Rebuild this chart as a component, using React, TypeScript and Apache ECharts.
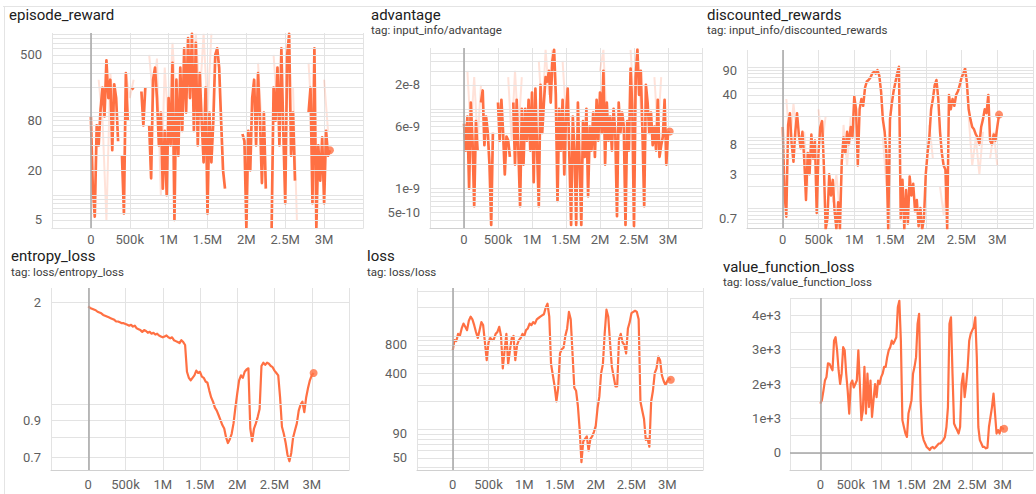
import { useEffect, useRef } from 'react';
import * as echarts from 'echarts';

// logging interval of the runs (steps between two logged points)
const STEP = 25000;
// the faint (raw, unsmoothed) traces are read at a coarser interval
const RAW_STEP = 50000;

// ---- smoothed series values, one per logged step (null = no data logged) ----
const rewardValues = [
  90, 12, 5.5, 70, 40, 110, 200, 90, 430, 150,
  250, 35, 220, 150, 45, null, 30, 6, 300, 80,
  null, 200, 190, null, null, null, 180, 70, 200, null,
  70, 16, 250, 350, 150, 40, 100, 12, 60, 10,
  150, 40, 400, 5, 250, 30, 350, 60, 600, 100,
  800, 150, 900, 60, 700, 40, 300, 80, 25, 200,
  6, 100, 25, 80, 500, 600, 350, 80, 20, 12,
  null, null, null, null, null, null, null, null, 55, 45,
  4, 60, 20, 150, 250, 40, 300, 80, 14, 100,
  12, null, null, 4, 200, 80, 350, 40, 600, 60,
  8, 500, 900, 30, 100, 15, null, null, null, null,
  null, null, 100, 200, 8, 600, 4, 40, 15, 50,
  8, 60, 30, 35,
];

const advantageValues = [
  6.5e-9, 3e-9, 8e-9, 1e-9, 1.2e-8, 4e-9, 6e-10, 7e-9, 3e-9, null,
  1.2e-8, 1.7e-8, 3.5e-9, 8e-9, 5e-9, 2e-9, 3.5e-10, 5e-9, null, null,
  1.2e-8, 4e-9, 1.3e-8, 5e-9, 1.5e-9, 4.5e-9, 4e-9, 2.5e-9, null, 1.2e-8,
  2e-9, 1.3e-8, 3e-9, 6e-10, 1e-8, 2e-9, 1e-8, 4e-9, 1.3e-8, 3e-9,
  1.6e-8, 1.2e-9, 1.8e-8, 3e-9, 6e-10, 2e-8, 5e-9, 1.2e-8, 2.5e-8, 2.2e-8,
  3e-8, 1.2e-8, 4e-8, 5.5e-8, 1.5e-8, 7e-10, 1e-8, 3e-9, 1.3e-8, 1.5e-9,
  8e-9, 1.8e-8, 2.5e-9, 3.5e-10, 8e-9, 3e-9, 3.5e-10, 1.2e-8, 2e-9, 3.5e-10,
  7e-9, 2.5e-9, 1e-8, 8e-10, 6e-9, 3e-9, 9e-9, 2.5e-9, 1.3e-8, 4e-9,
  1.6e-8, 5e-9, 3e-8, 2e-9, 1.2e-8, 4e-9, 8e-9, 3e-9, 1e-8, 5e-9,
  4.5e-10, 1.2e-8, 5e-9, 9e-9, 6e-9, 3.5e-10, 7e-9, 3e-9, 3.2e-8, 1e-8,
  3.4e-10, 2.5e-8, 5.5e-8, 1.5e-8, 3e-8, 5e-9, 6e-10, 2e-8, 1.2e-8, 5e-9,
  9e-9, 3.5e-9, 6e-9, 3e-9, 1.3e-8, 2.5e-9, 3.5e-9, 4.5e-9, 1.3e-8, 2e-9,
  5e-9, 5.2e-9,
];

const discountedValues = [
  14, 1.6, 0.75, 15, 22, 8, 4.5, 12, 22, 11,
  7, 12, 5, 1.3, 6, 3, 11, 5, 9, 0.85,
  6, 14, 17, 4, 0.5, 0.7, 3, 1.5, 2.5, 0.9,
  0.5, 1.2, 0.5, 4.5, 10, 6, 12, 8, 14, 10,
  38, 25, 4, 25, 35, 28, 50, 62, 65, 70,
  80, 85, 80, 90, 75, 45, 18, 12, 6, 0.5,
  18, 30, 45, 60, 80, 100, 0.7, 2.5, 0.5, 1.8,
  0.6, 2.8, 1.5, 2.2, 0.9, 1.3, 0.55, 1.0, 0.5, 0.7,
  3, 6, 10, 25, 35, 55, 65, 35, 12, 6,
  4, 3.5, 0.5, 40, 25, 35, 28, 40, 45, 55,
  70, 80, 95, 60, 25, 18, 14, 13, 11, 10,
  8, 14, 18, 25, 22, 40, 9, 8, 11, 9,
  14, 21,
];

const entropyValues = [
  1.95, 1.93, 1.92, 1.91, 1.90, 1.88, 1.87, 1.86, 1.84, 1.83,
  1.82, 1.81, 1.80, 1.79, 1.78, 1.76, 1.76, 1.75, 1.74, 1.74,
  1.73, 1.72, 1.71, 1.72, 1.70, 1.71, 1.68, 1.67, 1.66, 1.64,
  1.66, 1.65, 1.63, 1.64, 1.62, 1.63, 1.61, 1.62, 1.60, 1.59,
  1.58, 1.59, 1.60, 1.58, 1.57, 1.58, 1.55, 1.54, 1.53, 1.52,
  1.55, 1.53, 1.50, 1.25, 1.20, 1.18, 1.20, 1.22, 1.26, 1.24,
  1.25, 1.21, 1.20, 1.17, 1.16, 1.10, 1.05, 1.02, 0.98, 0.96,
  0.93, 0.90, 0.87, 0.85, 0.80, 0.77, 0.79, 0.82, 0.88, 0.98,
  1.08, 1.18, 1.22, 1.20, 1.25, 1.27, 1.28, 0.85, 0.78, 0.85,
  0.88, 0.92, 0.97, 1.30, 1.33, 1.31, 1.33, 1.32, 1.30, 1.29,
  1.26, 1.24, 1.22, 1.05, 0.86, 0.82, 0.77, 0.71, 0.68, 0.72,
  0.80, 0.84, 0.88, 0.96, 1.00, 1.02, 0.95, 1.05, 1.12, 1.18,
  1.22, 1.24,
];

const lossValues = [
  700, 900, 880, 1050, 1000, 1200, 1350, 1250, 1150, 1450,
  1600, 1500, 1300, 1100, 950, 1150, 1400, 1300, 850, 550,
  850, 950, 900, 920, 1050, 1100, 1250, 1000, 450, 700,
  1050, 500, 700, 950, 1000, 550, 800, 900, 950, 1050,
  1000, 1150, 1200, 1350, 1300, 1400, 1350, 1500, 1550, 1600,
  1650, 1700, 2000, 2200, 1600, 500, 380, 290, 200, 280,
  650, 720, 750, 1000, 1200, 1800, 1500, 650, 280, 260,
  180, 100, 45, 75, 80, 85, 60, 80, 85, 95,
  110, 170, 225, 400, 500, 1060, 1900, 1600, 850, 470,
  370, 290, 290, 920, 1050, 850, 800, 650, 1200, 1400,
  1750, 1800, 1850, 1800, 1500, 200, 160, 130, 78, 80,
  66, 200, 260, 400, 450, 600, 550, 380, 330, 300,
  330, 350, 340,
];

const valueLossValues = [
  1430, 1530, 1800, 2100, 2200, 2600, 2590, 2490, 2400, 3260,
  3360, 2980, 2400, 2000, 2300, 3070, 2980, 2300, 1800, 1140,
  2000, 2100, 1900, 2000, 2100, 2980, 2000, 950, 1240, 2500,
  1140, 2300, 1330, 2100, 1040, 1530, 2000, 1620, 2100, 2000,
  2200, 2300, 2500, 2500, 2780, 2980, 3070, 3260, 3170, 3260,
  3360, 4230, 4420, 3260, 950, 750, 560, 460, 1140, 1330,
  1530, 2300, 2500, 2780, 3750, 4040, 1530, 560, 370, 270,
  170, 130, 80, 150, 170, 130, 170, 220, 270, 270,
  320, 370, 460, 750, 1330, 3750, 3940, 2300, 850, 750,
  660, 560, 750, 2000, 2300, 1620, 2000, 2500, 3260, 3460,
  3560, 3650, 3940, 2780, 750, 370, 270, 170, 170, 130,
  150, 750, 1040, 1330, 1720, 1140, 560, 660, 560, 750,
  700, 700,
];

// ---- faint raw traces (top row), only where they show past the bold line ----
const rewardRaw = [
  null, null, 250, 80, 5, 300, 100, null, null, 300,
  150, 250, null, null, null, 500, 150, 450, 10, 350,
  60, 700, 100, null, null, 800, 200, 900, 150, 900,
  100, 900, null, null, null, null, null, null, null, null,
  null, null, null, 400, 60, null, null, 500, 100, null,
  null, null, 200, 5, null, null, 400, 60, null, null,
  250, 60,
];

const advantageRaw = [
  null, 3e-8, 5e-9, 2.5e-8, 4e-9, 2e-8, null, null, null, null,
  null, null, null, 2.5e-8, 4e-9, 3e-8, 5e-9, 2.5e-8, null, null,
  null, null, 4e-8, 8e-9, 5.5e-8, 1.5e-8, 5.5e-8, null, null, 4e-8,
  8e-9, null, null, null, null, null, null, null, null, null,
  3e-8, 5.5e-8, 6e-9, null, null, null, null, null, null, 5.5e-8,
  1e-8, 5.8e-8, 1e-8, 2e-9, 1.2e-8, null, 2.5e-8, 5e-9, 2.5e-8, null,
  null,
];

const discountedRaw = [
  null, 35, 8, 30, 10, null, 12, 2, null, null,
  25, 8, 20, null, 1.2, 3, 0.8, 15, 4, 20,
  null, null, null, null, null, null, null, null, 10, 2,
  null, null, null, null, null, null, null, null, null, null,
  null, 15, 5, null, 2, 0.8, 3, null, null, null,
  null, null, 20, 4, 10, 3, 12, null, 5, 12,
  4,
];

// ---- tick labels ----
const xTickValues = [0, 500000, 1000000, 1500000, 2000000, 2500000, 3000000];
const xTickLabels = ['0', '500k', '1M', '1.5M', '2M', '2.5M', '3M'];

const rewardTicks = [500, 80, 20, 5];
const rewardTickLabels = ['500', '80', '20', '5'];
const advantageTicks = [2e-8, 6e-9, 1e-9, 5e-10];
const advantageTickLabels = ['2e-8', '6e-9', '1e-9', '5e-10'];
const discountedTicks = [90, 40, 8, 3, 0.7];
const discountedTickLabels = ['90', '40', '8', '3', '0.7'];
const entropyTicks = [2, 0.9, 0.7];
const entropyTickLabels = ['2', '0.9', '0.7'];
const lossTicks = [800, 400, 90, 50];
const lossTickLabels = ['800', '400', '90', '50'];
const valueLossTicks = [0, 1000, 2000, 3000, 4000];
const valueLossTickLabels = ['0', '1e+3', '2e+3', '3e+3', '4e+3'];

const FONT = 'Roboto, "Noto Sans", sans-serif';
const ORANGE = '#ff7043';
const FAINT = 'rgba(255, 112, 67, 0.2)';
const GRID_COLOR = '#e3e3e3';
const LABEL_COLOR = '#5f5f5f';

type Panel = {
  title: string;
  tag?: string;
  titleX: number;
  titleY: number;
  tagY?: number;
  box: { left: number; top: number; width: number; height: number };
  log: boolean;
  yMin: number;
  yMax: number;
  values: (number | null)[];
  raw?: (number | null)[];
  ticks: number[];
  tickLabels: string[];
  lineWidth: number;
};

const panels: Panel[] = [
  {
    title: 'episode_reward', titleX: 9, titleY: 15,
    box: { left: 52, top: 33, width: 311, height: 195 },
    log: true, yMin: 4, yMax: 920, values: rewardValues, raw: rewardRaw,
    ticks: rewardTicks, tickLabels: rewardTickLabels, lineWidth: 2.7,
  },
  {
    title: 'advantage', tag: 'tag: input_info/advantage', titleX: 371, titleY: 15, tagY: 30,
    box: { left: 430, top: 48, width: 272, height: 180 },
    log: true, yMin: 3.2e-10, yMax: 5.8e-8, values: advantageValues, raw: advantageRaw,
    ticks: advantageTicks, tickLabels: advantageTickLabels, lineWidth: 2.7,
  },
  {
    title: 'discounted_rewards', tag: 'tag: input_info/discounted_rewards', titleX: 707, titleY: 15, tagY: 30,
    box: { left: 747, top: 50, width: 297, height: 178 },
    log: true, yMin: 0.52, yMax: 173, values: discountedValues, raw: discountedRaw,
    ticks: discountedTicks, tickLabels: discountedTickLabels, lineWidth: 2.5,
  },
  {
    title: 'entropy_loss', tag: 'tag: loss/entropy_loss', titleX: 11, titleY: 256, tagY: 272,
    box: { left: 51, top: 288, width: 298, height: 182 },
    log: true, yMin: 0.641, yMax: 2.21, values: entropyValues,
    ticks: entropyTicks, tickLabels: entropyTickLabels, lineWidth: 2.2,
  },
  {
    title: 'loss', tag: 'tag: loss/loss', titleX: 367, titleY: 256, tagY: 272,
    box: { left: 417, top: 288, width: 286, height: 182 },
    log: true, yMin: 37.2, yMax: 3236, values: lossValues,
    ticks: lossTicks, tickLabels: lossTickLabels, lineWidth: 2.2,
  },
  {
    title: 'value_function_loss', tag: 'tag: loss/value_function_loss', titleX: 723, titleY: 267, tagY: 282,
    box: { left: 790, top: 298, width: 252, height: 172 },
    log: false, yMin: -500, yMax: 4500, values: valueLossValues,
    ticks: valueLossTicks, tickLabels: valueLossTickLabels, lineWidth: 2.2,
  },
];

// 1..9 x 10^k positions inside [min, max] (minor grid of a log axis)
function logGridValues(min: number, max: number): number[] {
  const out: number[] = [];
  const e0 = Math.floor(Math.log10(min));
  const e1 = Math.ceil(Math.log10(max));
  for (let e = e0; e <= e1; e++) {
    for (let m = 1; m <= 9; m++) {
      const v = Number((m * Math.pow(10, e)).toPrecision(12));
      if (v >= min && v <= max) out.push(v);
    }
  }
  return out;
}

function buildOption() {
  const grid = panels.map((p) => ({ ...p.box, containLabel: false }));

  const xAxis = panels.map((_, k) => ({
    type: 'value',
    gridIndex: k,
    min: -500000,
    max: 3500000,
    interval: 500000,
    axisLine: { show: true, onZero: false, lineStyle: { color: '#d0d0d0' } },
    axisTick: { show: false },
    axisLabel: {
      color: LABEL_COLOR,
      fontSize: 13,
      fontFamily: FONT,
      margin: k < 3 ? 5 : 8,
      formatter: (v: number) => {
        const i = xTickValues.indexOf(Math.round(v));
        return i >= 0 ? xTickLabels[i] : '';
      },
    },
    splitLine: { show: true, lineStyle: { color: GRID_COLOR, width: 1 } },
  }));

  const yAxis = panels.map((p, k) =>
    p.log
      ? {
          type: 'log',
          gridIndex: k,
          min: p.yMin,
          max: p.yMax,
          axisLabel: { show: false },
          axisLine: { show: false },
          axisTick: { show: false },
          splitLine: { show: false },
        }
      : {
          type: 'value',
          gridIndex: k,
          min: p.yMin,
          max: p.yMax,
          interval: 500,
          axisLine: { show: false },
          axisTick: { show: false },
          axisLabel: {
            color: LABEL_COLOR,
            fontSize: 13,
            fontFamily: FONT,
            margin: 9,
            formatter: (v: number) => {
              const i = p.ticks.indexOf(Math.round(v));
              return i >= 0 ? p.tickLabels[i] : '';
            },
          },
          splitLine: { show: true, lineStyle: { color: GRID_COLOR, width: 1 } },
        }
  );

  const series: any[] = [];
  panels.forEach((p, k) => {
    const marks: any[] = [];
    if (p.log) {
      logGridValues(p.yMin, p.yMax).forEach((v) => marks.push({ yAxis: v }));
      p.ticks.forEach((v, i) =>
        marks.push({
          yAxis: v,
          label: {
            show: true,
            position: 'start',
            distance: 10,
            formatter: p.tickLabels[i],
            color: LABEL_COLOR,
            fontSize: 13,
            fontFamily: FONT,
          },
        })
      );
    } else {
      marks.push({ yAxis: 0, lineStyle: { color: '#a6a6a6', width: 1.5, type: 'solid' } });
    }
    marks.push({ xAxis: 0, lineStyle: { color: '#a6a6a6', width: 1.5, type: 'solid' } });

    series.push({
      type: 'line',
      xAxisIndex: k,
      yAxisIndex: k,
      data: [],
      z: 1,
      silent: true,
      markLine: {
        silent: true,
        animation: false,
        precision: 20,
        symbol: ['none', 'none'],
        label: { show: false },
        lineStyle: { color: GRID_COLOR, width: 1, type: 'solid' },
        emphasis: { disabled: true },
        data: marks,
      },
    });

    if (p.raw) {
      series.push({
        type: 'line',
        xAxisIndex: k,
        yAxisIndex: k,
        data: p.raw.map((v, i) => [i * RAW_STEP, v]),
        showSymbol: false,
        symbol: 'none',
        connectNulls: false,
        lineStyle: { color: FAINT, width: 2 },
        z: 2,
        silent: true,
      });
    }

    series.push({
      type: 'line',
      xAxisIndex: k,
      yAxisIndex: k,
      data: p.values.map((v, i) => [i * STEP, v]),
      showSymbol: false,
      symbol: 'none',
      connectNulls: false,
      lineStyle: { color: ORANGE, width: p.lineWidth, join: 'round' },
      itemStyle: { color: ORANGE },
      z: 3,
      silent: true,
    });

    const last = p.values.length - 1;
    series.push({
      type: 'scatter',
      xAxisIndex: k,
      yAxisIndex: k,
      data: [[last * STEP, p.values[last]]],
      symbolSize: 8,
      itemStyle: { color: ORANGE },
      z: 4,
      silent: true,
    });
  });

  const graphic: any[] = [
    { type: 'line', shape: { x1: 3, y1: 6.5, x2: 1036, y2: 6.5 }, style: { stroke: '#e4e4e4', lineWidth: 1 } },
    { type: 'line', shape: { x1: 4.5, y1: 6, x2: 4.5, y2: 494 }, style: { stroke: '#e4e4e4', lineWidth: 1 } },
  ];
  panels.forEach((p) => {
    graphic.push({
      type: 'text',
      x: p.titleX,
      y: p.titleY,
      style: { text: p.title, fontSize: 15, fontFamily: FONT, fill: '#202020', verticalAlign: 'middle' },
    });
    if (p.tag) {
      graphic.push({
        type: 'text',
        x: p.titleX,
        y: p.tagY,
        style: { text: p.tag, fontSize: 11.5, fontFamily: FONT, fill: '#3c3c3c', verticalAlign: 'middle' },
      });
    }
  });

  return {
    animation: false,
    backgroundColor: '#ffffff',
    grid,
    xAxis,
    yAxis,
    series,
    graphic,
  };
}

export default function App() {
  const ref = useRef<HTMLDivElement>(null);
  useEffect(() => {
    if (!ref.current) return;
    const chart = echarts.init(ref.current, undefined, { renderer: 'svg' });
    chart.setOption(buildOption() as any);
    return () => chart.dispose();
  }, []);
  return (
    <div
      ref={ref}
      style={{ position: 'fixed', left: 0, top: 0, width: 1036, height: 494, background: '#fff' }}
    />
  );
}
